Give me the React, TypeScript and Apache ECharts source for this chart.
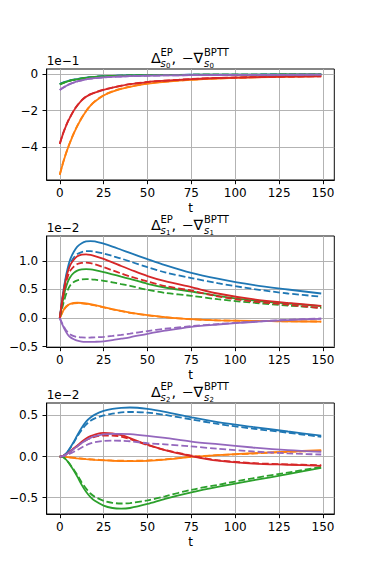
import React, { useEffect, useRef } from 'react';
import * as echarts from 'echarts';

// time samples (t)
const T = [0, 1.5, 3, 4.5, 6, 8, 10, 12.5, 15, 17.5, 20, 25, 30, 35, 40, 50, 60, 75, 90, 110, 130, 149];
const X_TICKS = [0, 25, 50, 75, 100, 125, 150];

// ---- panel s0 (units of 1e-1) ----
const S0_Y_TICKS = [-4, -2, 0];
const s0EpBlue = [-0.55, -0.49, -0.437, -0.393, -0.355, -0.312, -0.278, -0.24, -0.206, -0.178, -0.156, -0.125, -0.106, -0.092, -0.079, -0.064, -0.054, -0.044, -0.038, -0.033, -0.029, -0.026];
const s0BpBlue = [-0.548, -0.488, -0.435, -0.391, -0.353, -0.31, -0.276, -0.238, -0.204, -0.177, -0.155, -0.124, -0.105, -0.091, -0.078, -0.063, -0.053, -0.043, -0.037, -0.032, -0.028, -0.025];
const s0EpOrange = [-5.5, -4.97, -4.5, -4.08, -3.7, -3.24, -2.84, -2.4, -2.03, -1.73, -1.5, -1.17, -0.96, -0.81, -0.7, -0.53, -0.43, -0.32, -0.25, -0.19, -0.15, -0.12];
const s0BpOrange = [-5.48, -4.95, -4.48, -4.06, -3.68, -3.22, -2.82, -2.39, -2.02, -1.72, -1.49, -1.16, -0.95, -0.8, -0.69, -0.52, -0.42, -0.31, -0.245, -0.185, -0.145, -0.115];
const s0EpGreen = [-0.57, -0.51, -0.455, -0.41, -0.37, -0.325, -0.29, -0.25, -0.215, -0.185, -0.162, -0.13, -0.11, -0.095, -0.082, -0.066, -0.056, -0.046, -0.04, -0.035, -0.03, -0.028];
const s0BpGreen = [-0.566, -0.507, -0.452, -0.408, -0.368, -0.323, -0.288, -0.248, -0.213, -0.184, -0.161, -0.129, -0.109, -0.094, -0.081, -0.065, -0.055, -0.045, -0.039, -0.034, -0.03, -0.027];
const s0EpRed = [-3.82, -3.36, -2.97, -2.63, -2.34, -2.0, -1.72, -1.44, -1.24, -1.11, -1.02, -0.87, -0.75, -0.645, -0.56, -0.44, -0.37, -0.28, -0.22, -0.18, -0.15, -0.13];
const s0BpRed = [-3.8, -3.34, -2.95, -2.61, -2.33, -1.99, -1.71, -1.43, -1.23, -1.1, -1.01, -0.86, -0.74, -0.64, -0.555, -0.435, -0.365, -0.275, -0.215, -0.175, -0.145, -0.125];
const s0EpPurple = [-0.88, -0.78, -0.69, -0.61, -0.545, -0.47, -0.41, -0.35, -0.3, -0.26, -0.232, -0.19, -0.162, -0.14, -0.122, -0.097, -0.082, -0.067, -0.057, -0.05, -0.045, -0.04];
const s0BpPurple = [-0.87, -0.772, -0.683, -0.605, -0.54, -0.466, -0.407, -0.348, -0.298, -0.259, -0.231, -0.189, -0.161, -0.139, -0.121, -0.096, -0.081, -0.066, -0.056, -0.049, -0.044, -0.04];

// ---- panel s1 (units of 1e-2) ----
const S1_Y_TICKS = [-0.5, 0, 0.5, 1.0];
const s1EpBlue = [0, 0.36, 0.65, 0.87, 1.03, 1.16, 1.25, 1.31, 1.34, 1.347, 1.343, 1.3, 1.25, 1.195, 1.14, 1.03, 0.925, 0.79, 0.69, 0.58, 0.5, 0.43];
const s1BpBlue = [0, 0.34, 0.62, 0.82, 0.95, 1.06, 1.12, 1.155, 1.17, 1.17, 1.16, 1.13, 1.085, 1.04, 0.99, 0.89, 0.8, 0.7, 0.61, 0.51, 0.43, 0.375];
const s1EpOrange = [0, 0.1, 0.18, 0.225, 0.25, 0.264, 0.268, 0.264, 0.255, 0.242, 0.227, 0.192, 0.157, 0.125, 0.097, 0.052, 0.018, -0.018, -0.038, -0.05, -0.057, -0.062];
const s1BpOrange = [0, 0.095, 0.174, 0.219, 0.244, 0.258, 0.262, 0.259, 0.25, 0.237, 0.222, 0.187, 0.152, 0.121, 0.093, 0.048, 0.015, -0.02, -0.039, -0.05, -0.056, -0.06];
const s1EpGreen = [0, 0.26, 0.48, 0.63, 0.72, 0.79, 0.83, 0.85, 0.855, 0.85, 0.838, 0.805, 0.765, 0.725, 0.685, 0.6, 0.535, 0.465, 0.39, 0.31, 0.255, 0.21];
const s1BpGreen = [0, 0.19, 0.36, 0.49, 0.575, 0.63, 0.66, 0.677, 0.682, 0.68, 0.672, 0.652, 0.625, 0.595, 0.565, 0.495, 0.44, 0.39, 0.33, 0.27, 0.22, 0.18];
const s1EpRed = [0, 0.33, 0.6, 0.8, 0.93, 1.02, 1.08, 1.11, 1.115, 1.105, 1.085, 1.035, 0.975, 0.91, 0.85, 0.735, 0.645, 0.54, 0.43, 0.33, 0.265, 0.215];
const s1BpRed = [0, 0.3, 0.55, 0.72, 0.83, 0.9, 0.945, 0.965, 0.968, 0.96, 0.94, 0.89, 0.835, 0.78, 0.73, 0.64, 0.56, 0.48, 0.38, 0.29, 0.235, 0.175];
const s1EpPurple = [0, -0.115, -0.21, -0.285, -0.335, -0.37, -0.395, -0.41, -0.415, -0.416, -0.414, -0.405, -0.385, -0.36, -0.335, -0.275, -0.22, -0.152, -0.112, -0.068, -0.034, -0.012];
const s1BpPurple = [0, -0.1, -0.185, -0.245, -0.285, -0.315, -0.33, -0.338, -0.34, -0.339, -0.336, -0.328, -0.312, -0.293, -0.272, -0.226, -0.186, -0.14, -0.104, -0.064, -0.03, -0.007];

// ---- panel s2 (units of 1e-2) ----
const S2_Y_TICKS = [-0.5, 0, 0.5];
const s2EpBlue = [0, 0.005, 0.025, 0.06, 0.11, 0.18, 0.26, 0.35, 0.425, 0.475, 0.51, 0.555, 0.58, 0.593, 0.597, 0.58, 0.545, 0.478, 0.418, 0.36, 0.305, 0.255];
const s2BpBlue = [0, 0.005, 0.025, 0.058, 0.105, 0.17, 0.245, 0.325, 0.39, 0.435, 0.465, 0.5, 0.522, 0.537, 0.543, 0.535, 0.507, 0.452, 0.397, 0.34, 0.29, 0.24];
const s2EpOrange = [0, -0.002, -0.005, -0.008, -0.012, -0.017, -0.022, -0.027, -0.032, -0.036, -0.04, -0.046, -0.052, -0.055, -0.057, -0.052, -0.037, -0.005, 0.018, 0.04, 0.06, 0.077];
const s2BpOrange = [0, -0.002, -0.004, -0.007, -0.01, -0.015, -0.02, -0.025, -0.03, -0.034, -0.037, -0.043, -0.048, -0.051, -0.052, -0.048, -0.034, -0.003, 0.016, 0.036, 0.055, 0.07];
const s2EpGreen = [0, -0.005, -0.025, -0.06, -0.105, -0.17, -0.245, -0.345, -0.43, -0.495, -0.54, -0.598, -0.627, -0.635, -0.627, -0.578, -0.515, -0.437, -0.37, -0.29, -0.215, -0.138];
const s2BpGreen = [0, -0.005, -0.025, -0.058, -0.1, -0.16, -0.225, -0.315, -0.39, -0.45, -0.49, -0.54, -0.564, -0.572, -0.567, -0.535, -0.485, -0.405, -0.345, -0.265, -0.195, -0.126];
const s2EpRed = [0, 0.004, 0.018, 0.04, 0.065, 0.1, 0.135, 0.18, 0.218, 0.248, 0.268, 0.287, 0.282, 0.26, 0.225, 0.145, 0.078, 0.006, -0.05, -0.085, -0.1, -0.113];
const s2BpRed = [0, 0.004, 0.017, 0.037, 0.06, 0.092, 0.124, 0.165, 0.198, 0.223, 0.24, 0.256, 0.256, 0.242, 0.212, 0.14, 0.08, 0.012, -0.045, -0.08, -0.095, -0.105];
const s2EpPurple = [0, 0.004, 0.017, 0.037, 0.06, 0.092, 0.125, 0.165, 0.2, 0.228, 0.248, 0.27, 0.277, 0.277, 0.273, 0.252, 0.226, 0.182, 0.15, 0.11, 0.078, 0.058];
const s2BpPurple = [0, 0.003, 0.01, 0.022, 0.037, 0.058, 0.08, 0.11, 0.138, 0.16, 0.175, 0.19, 0.193, 0.192, 0.186, 0.162, 0.148, 0.123, 0.095, 0.062, 0.038, 0.025];

const COLORS = ['#1f77b4', '#ff7f0e', '#2ca02c', '#d62728', '#9467bd'];
const FONT = 'DejaVu Sans';

const PANELS = [
  { ep: [s0EpBlue, s0EpOrange, s0EpGreen, s0EpRed, s0EpPurple], bp: [s0BpBlue, s0BpOrange, s0BpGreen, s0BpRed, s0BpPurple], yMin: -5.78, yMax: 0.27, yTicks: S0_Y_TICKS, dec: 0, exp: '1e\u22121', sub: '0', top: 69 },
  { ep: [s1EpBlue, s1EpOrange, s1EpGreen, s1EpRed, s1EpPurple], bp: [s1BpBlue, s1BpOrange, s1BpGreen, s1BpRed, s1BpPurple], yMin: -0.505, yMax: 1.435, yTicks: S1_Y_TICKS, dec: 1, exp: '1e\u22122', sub: '1', top: 236 },
  { ep: [s2EpBlue, s2EpOrange, s2EpGreen, s2EpRed, s2EpPurple], bp: [s2BpBlue, s2BpOrange, s2BpGreen, s2BpRed, s2BpPurple], yMin: -0.7, yMax: 0.652, yTicks: S2_Y_TICKS, dec: 1, exp: '1e\u22122', sub: '2', top: 403 },
];

const GRID_LEFT = 46.7;
const GRID_W = 287.6;
const GRID_H = 111;

function fmt(v: number, dec: number) {
  const s = Math.abs(v).toFixed(dec);
  return v < -1e-9 ? '\u2212' + s : s;
}

function txt(x: number, y: number, text: string, size: number, italic = false) {
  return {
    type: 'text',
    x,
    y,
    silent: true,
    style: {
      text,
      fontSize: size,
      fontFamily: FONT,
      fontStyle: italic ? 'italic' : 'normal',
      fill: '#000',
      align: 'left',
      verticalAlign: 'middle',
    },
  };
}

function titleElems(top: number, sub: string) {
  return [
    txt(151, top - 10.7, '\u0394', 14.4),
    txt(160.5, top - 16.3, 'EP', 10),
    txt(160.5, top - 5.9, 's', 10, true),
    txt(166, top - 3.3, sub, 7),
    txt(171.5, top - 10.7, ',', 14.4),
    txt(181.5, top - 10.7, '\u2212\u2207', 14.4),
    txt(204, top - 16.3, 'BPTT', 10),
    txt(204, top - 5.9, 's', 10, true),
    txt(209.5, top - 3.3, sub, 7),
  ];
}

export default function App() {
  const ref = useRef<HTMLDivElement>(null);
  useEffect(() => {
    if (!ref.current) return;
    const chart = echarts.init(ref.current, undefined, { renderer: 'svg' });
    const grids: any[] = [];
    const xAxes: any[] = [];
    const yAxes: any[] = [];
    const series: any[] = [];
    const graphics: any[] = [];
    PANELS.forEach((p, i) => {
      grids.push({
        left: GRID_LEFT,
        top: p.top,
        width: GRID_W,
        height: GRID_H,
        show: true,
        borderColor: '#000',
        borderWidth: 0.96,
        backgroundColor: 'transparent',
        containLabel: false,
        outerBoundsMode: 'none',
      });
      xAxes.push({
        type: 'value',
        gridIndex: i,
        min: -7.45,
        max: 156.45,
        axisLine: { show: true, onZero: false, lineStyle: { color: '#000', width: 0.96 } },
        axisTick: { show: true, length: 4.2, customValues: X_TICKS, lineStyle: { color: '#000', width: 0.96 } },
        axisLabel: { customValues: X_TICKS, margin: 7, fontSize: 12, fontFamily: FONT, color: '#000' },
        splitLine: { show: true, lineStyle: { color: '#b0b0b0', width: 0.96 } },
        name: 't',
        nameLocation: 'middle',
        nameGap: 21.5,
        nameTextStyle: { fontSize: 12, fontFamily: FONT, color: '#000' },
      });
      yAxes.push({
        type: 'value',
        gridIndex: i,
        min: p.yMin,
        max: p.yMax,
        axisLine: { show: true, onZero: false, lineStyle: { color: '#000', width: 0.96 } },
        axisTick: { show: true, length: 4.2, customValues: p.yTicks, lineStyle: { color: '#000', width: 0.96 } },
        axisLabel: {
          customValues: p.yTicks,
          margin: 8.5,
          fontSize: 12,
          fontFamily: FONT,
          color: '#000',
          formatter: (v: number) => fmt(v, p.dec),
        },
        splitLine: { show: true, lineStyle: { color: '#b0b0b0', width: 0.96 } },
      });
      COLORS.forEach((c, k) => {
        [p.ep[k], p.bp[k]].forEach((arr, d) => {
          series.push({
            type: 'line',
            name: (d === 0 ? 'EP ' : 'BPTT ') + k,
            xAxisIndex: i,
            yAxisIndex: i,
            data: T.map((t, j) => [t, arr[j]]),
            showSymbol: false,
            symbol: 'none',
            smooth: 0.3,
            silent: true,
            lineStyle: { color: c, width: 1.8, type: d === 0 ? 'solid' : [6.7, 2.9], cap: 'butt' },
            itemStyle: { color: c },
          });
        });
      });
      graphics.push(...titleElems(p.top, p.sub));
      graphics.push({
        type: 'text',
        x: GRID_LEFT,
        y: p.top - 8.2,
        silent: true,
        style: { text: p.exp, fontSize: 12, fontFamily: FONT, fill: '#000', align: 'left', verticalAlign: 'middle' },
      });
    });
    chart.setOption({
      animation: false,
      backgroundColor: '#fff',
      grid: grids,
      xAxis: xAxes,
      yAxis: yAxes,
      series,
      graphic: graphics,
    });
    return () => chart.dispose();
  }, []);
  return (
    <div
      ref={ref}
      style={{ position: 'fixed', left: 0, top: 0, width: 371, height: 579 }}
    />
  );
}
